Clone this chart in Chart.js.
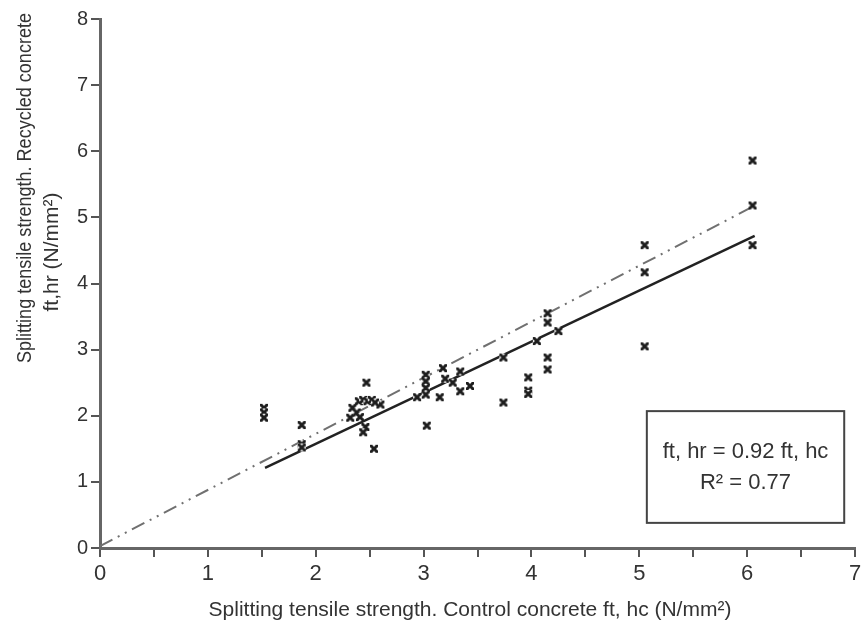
<!DOCTYPE html>
<html>
<head>
<meta charset="utf-8">
<script src="https://cdn.jsdelivr.net/npm/chart.js@4.4.1/dist/chart.umd.min.js"></script>
<style>
  html, body { margin: 0; padding: 0; background: #fff; }
  #wrap { width: 866px; height: 637px; }
</style>
</head>
<body>
<div id="wrap"><canvas id="tensileChart" width="866" height="637"></canvas></div>
<script>
// control concrete ft,hc vs recycled concrete ft,hr (N/mm2)
var controlFt = [1.52, 1.52, 1.52, 1.87, 1.87, 1.87, 2.32, 2.34, 2.38, 2.41, 2.40, 2.44, 2.47, 2.48, 2.52,
  2.46, 2.44, 2.54, 2.60, 2.55, 2.94, 3.02, 3.02, 3.02, 3.02, 3.03, 3.15, 3.18, 3.20, 3.27, 3.34, 3.34,
  3.43, 3.74, 3.74, 3.97, 3.97, 3.97, 4.05, 4.15, 4.15, 4.15, 4.15, 4.25, 5.05, 5.05, 5.05, 6.05, 6.05, 6.05];
var recycledFt = [2.12, 2.05, 1.97, 1.86, 1.57, 1.52, 1.97, 2.12, 2.05, 1.98, 2.22, 2.24, 2.50, 2.22, 2.24,
  1.83, 1.75, 1.50, 2.17, 2.20, 2.28, 2.62, 2.52, 2.42, 2.32, 1.85, 2.28, 2.72, 2.56, 2.50, 2.67, 2.37,
  2.45, 2.88, 2.20, 2.58, 2.38, 2.33, 3.13, 3.55, 3.41, 2.88, 2.70, 3.28, 4.58, 4.17, 3.05, 5.86, 5.18, 4.58];

// fitted line (solid) and the dash-dot line, end points as drawn
var fitX = [1.53, 6.07];
var fitY = [1.21, 4.72];
var refX = [0, 6.05];
var refY = [0.03, 5.16];

var fitText = ["ft, hr = 0.92 ft, hc", "R\u00b2 = 0.77"];
var xTitle = "Splitting tensile strength. Control concrete ft, hc (N/mm\u00b2)";
var yTitle = ["Splitting tensile strength. Recycled concrete", "ft,hr (N/mm\u00b2)"];

var FONT = "'Liberation Sans', Arial, sans-serif";

function toPoints(xs, ys) {
  return xs.map(function (x, i) { return { x: x, y: ys[i] }; });
}

// little boxed-x marker like in the figure
var marker = document.createElement('canvas');
marker.width = 10; marker.height = 10;
(function () {
  var m = marker.getContext('2d');
  m.fillStyle = '#1e1e1e';
  m.fillRect(1, 1, 8, 8);
  m.fillStyle = '#fff';
  m.beginPath(); m.moveTo(3.2, 1); m.lineTo(5, 3); m.lineTo(6.8, 1); m.fill();
  m.beginPath(); m.moveTo(3.2, 9); m.lineTo(5, 7); m.lineTo(6.8, 9); m.fill();
  m.beginPath(); m.moveTo(1, 3.2); m.lineTo(3, 5); m.lineTo(1, 6.8); m.fill();
  m.beginPath(); m.moveTo(9, 3.2); m.lineTo(7, 5); m.lineTo(9, 6.8); m.fill();
})();

var extras = {
  id: 'extras',
  afterDraw: function (chart) {
    var ctx = chart.ctx;
    var xs = chart.scales.x, ys = chart.scales.y;
    ctx.save();
    // equation box
    var l = xs.getPixelForValue(5.07), r = xs.getPixelForValue(6.9);
    var t = ys.getPixelForValue(2.07), b = ys.getPixelForValue(0.38);
    ctx.strokeStyle = '#444';
    ctx.lineWidth = 2;
    ctx.strokeRect(l, t, r - l, b - t);
    ctx.fillStyle = '#333';
    ctx.font = '22px ' + FONT;
    ctx.textAlign = 'center';
    ctx.textBaseline = 'middle';
    var cx = (l + r) / 2;
    ctx.fillText(fitText[0], cx, t + 41, 168);
    ctx.fillText(fitText[1], cx, t + 72);
    // x title
    ctx.font = '21px ' + FONT;
    ctx.fillText(xTitle, 470, 610, 535);
    // y title, two rotated lines
    ctx.translate(25, 188);
    ctx.rotate(-Math.PI / 2);
    ctx.fillText(yTitle[0], 0, 0, 350);
    ctx.fillText(yTitle[1], -64, 27, 165);
    ctx.restore();
  }
};

var ctx = document.getElementById('tensileChart').getContext('2d');
var tensileChart = new Chart(ctx, {
  type: 'scatter',
  data: {
    datasets: [
      {
        label: 'Tests',
        data: toPoints(controlFt, recycledFt),
        pointStyle: marker,
        pointRadius: 5,
        order: 0
      }, {
        label: 'Fit',
        type: 'line',
        data: toPoints(fitX, fitY),
        borderColor: '#222',
        borderWidth: 2.5,
        pointRadius: 0,
        fill: false,
        order: 1
      }, {
        label: 'Reference',
        type: 'line',
        data: toPoints(refX, refY),
        borderColor: '#707070',
        borderWidth: 2,
        borderDash: [14, 6, 2, 6, 2, 6],
        pointRadius: 0,
        fill: false,
        order: 2
      }
    ]
  },
  options: {
    responsive: false,
    animation: false,
    layout: { padding: { top: 19, right: 11, left: 0, bottom: 0 } },
    plugins: { legend: { display: false }, tooltip: { enabled: false } },
    scales: {
      x: {
        type: 'linear',
        min: 0, max: 7,
        afterFit: function (s) { s.height = 89; },
        ticks: {
          stepSize: 0.5,
          autoSkip: false,
          maxRotation: 0,
          padding: 4,
          color: '#333',
          font: { family: FONT, size: 22 },
          callback: function (v) { return Number.isInteger(v) ? v : ''; }
        },
        grid: { drawOnChartArea: false, drawTicks: true, tickLength: 9, color: '#555', lineWidth: 2 },
        border: { display: true, color: '#666', width: 3 }
      },
      y: {
        min: 0, max: 8,
        afterFit: function (s) { s.width = 100; },
        ticks: {
          stepSize: 1,
          padding: 3,
          color: '#333',
          font: { family: FONT, size: 20 }
        },
        grid: { drawOnChartArea: false, drawTicks: true, tickLength: 9, color: '#555', lineWidth: 2 },
        border: { display: true, color: '#666', width: 3 }
      }
    }
  },
  plugins: [extras]
});
</script>
</body>
</html>
